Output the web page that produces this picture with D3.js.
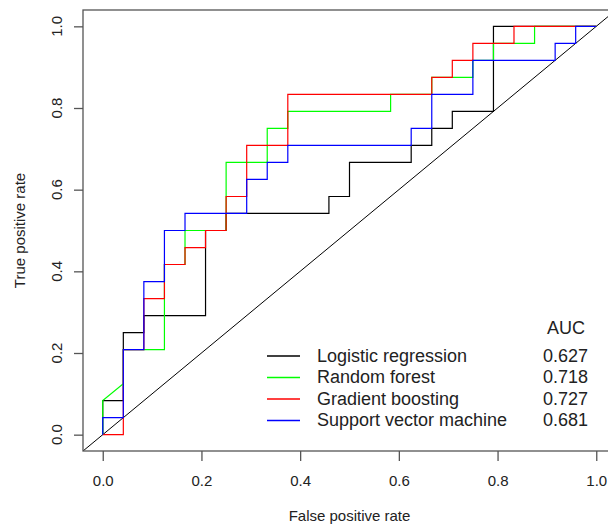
<!DOCTYPE html>
<html>
<head>
<meta charset="utf-8">
<script src="https://cdn.jsdelivr.net/npm/d3@7"></script>
<style>
  body { margin: 0; background: #fff; }
  svg text { font-family: "Liberation Sans", Arial, sans-serif; fill: #222; }
</style>
</head>
<body>
<div id="roc-chart"></div>
<script>
// ROC curves, 24 positives / 24 negatives in the test set
var models = ["Logistic regression", "Random forest", "Gradient boosting", "Support vector machine"];
var aucValues = ["0.627", "0.718", "0.727", "0.681"];
var lineColors = ["#000000", "#00ff00", "#ff0000", "#0000ff"];

var lrFpr = [0, 0, 0.0417, 0.0417, 0.0833, 0.0833, 0.2083, 0.2083, 0.25, 0.25, 0.4583, 0.4583, 0.5, 0.5, 0.625, 0.625, 0.6667, 0.6667, 0.7083, 0.7083, 0.7917, 0.7917, 1];
var lrTpr = [0, 0.0833, 0.0833, 0.25, 0.25, 0.2917, 0.2917, 0.5, 0.5, 0.5417, 0.5417, 0.5833, 0.5833, 0.6667, 0.6667, 0.7083, 0.7083, 0.75, 0.75, 0.7917, 0.7917, 1, 1];

var rfFpr = [0, 0, 0.0417, 0.0417, 0.125, 0.125, 0.1667, 0.1667, 0.25, 0.25, 0.3333, 0.3333, 0.375, 0.375, 0.5833, 0.5833, 0.6667, 0.6667, 0.75, 0.75, 0.7917, 0.7917, 0.875, 0.875, 1];
var rfTpr = [0, 0.0833, 0.125, 0.2083, 0.2083, 0.4167, 0.4167, 0.5, 0.5, 0.6667, 0.6667, 0.75, 0.75, 0.7917, 0.7917, 0.8333, 0.8333, 0.875, 0.875, 0.9167, 0.9167, 0.9583, 0.9583, 1, 1];

var gbFpr = [0, 0.0417, 0.0417, 0.0833, 0.0833, 0.125, 0.125, 0.1667, 0.1667, 0.2083, 0.2083, 0.25, 0.25, 0.2917, 0.2917, 0.375, 0.375, 0.6667, 0.6667, 0.7083, 0.7083, 0.75, 0.75, 0.8333, 0.8333, 1];
var gbTpr = [0, 0, 0.2083, 0.2083, 0.3333, 0.3333, 0.4167, 0.4167, 0.4583, 0.4583, 0.5, 0.5, 0.5833, 0.5833, 0.7083, 0.7083, 0.8333, 0.8333, 0.875, 0.875, 0.9167, 0.9167, 0.9583, 0.9583, 1, 1];

var svmFpr = [0, 0, 0.0417, 0.0417, 0.0833, 0.0833, 0.125, 0.125, 0.1667, 0.1667, 0.2917, 0.2917, 0.3333, 0.3333, 0.375, 0.375, 0.625, 0.625, 0.6667, 0.6667, 0.75, 0.75, 0.9167, 0.9167, 0.9583, 0.9583, 1];
var svmTpr = [0, 0.0417, 0.0417, 0.2083, 0.2083, 0.375, 0.375, 0.5, 0.5, 0.5417, 0.5417, 0.625, 0.625, 0.6667, 0.6667, 0.7083, 0.7083, 0.75, 0.75, 0.8333, 0.8333, 0.9167, 0.9167, 0.9583, 0.9583, 1, 1];

var tickValues = [0, 0.2, 0.4, 0.6, 0.8, 1.0];

function toPoints(fpr, tpr) {
  return fpr.map(function(f, i) { return { x: f, y: tpr[i] }; });
}

var curves = [
  toPoints(lrFpr, lrTpr),
  toPoints(rfFpr, rfTpr),
  toPoints(gbFpr, gbTpr),
  toPoints(svmFpr, svmTpr)
];

var width = 608;
var height = 524;
var plot = { left: 83, right: 616, top: 10, bottom: 451 };

var svg = d3.select("div#roc-chart")
  .append("svg")
    .attr("width", width)
    .attr("height", height);

// R pads the range by 4% on each side
var x = d3.scaleLinear()
  .domain([-0.04, 1.04])
  .range([plot.left, plot.right]);

var y = d3.scaleLinear()
  .domain([-0.04, 1.04])
  .range([plot.bottom, plot.top]);

svg.append("clipPath")
    .attr("id", "plot-clip")
  .append("rect")
    .attr("x", plot.left)
    .attr("y", plot.top)
    .attr("width", plot.right - plot.left)
    .attr("height", plot.bottom - plot.top);

var g = svg.append("g").attr("clip-path", "url(#plot-clip)");

// reference diagonal
g.append("line")
  .attr("x1", x(-0.04))
  .attr("y1", y(-0.04))
  .attr("x2", x(1.04))
  .attr("y2", y(1.04))
  .attr("stroke", "#000")
  .attr("stroke-width", 1);

var line = d3.line()
  .x(function(d) { return x(d.x); })
  .y(function(d) { return y(d.y); });

g.selectAll("path.roc")
  .data(curves)
  .enter()
  .append("path")
  .attr("class", "roc")
  .attr("fill", "none")
  .attr("stroke", function(d, i) { return lineColors[i]; })
  .attr("stroke-width", 1.2)
  .attr("d", line);

// box
svg.append("rect")
  .attr("x", plot.left)
  .attr("y", plot.top)
  .attr("width", plot.right - plot.left)
  .attr("height", plot.bottom - plot.top)
  .attr("fill", "none")
  .attr("stroke", "#555")
  .attr("stroke-width", 1.3);

// x axis
var xAxis = d3.axisBottom(x)
  .tickValues(tickValues)
  .tickSize(10)
  .tickPadding(14)
  .tickFormat(d3.format(".1f"));

var xg = svg.append("g")
  .attr("transform", "translate(0," + plot.bottom + ")")
  .call(xAxis);
xg.select(".domain").remove();
xg.selectAll("line").attr("stroke", "#555").attr("stroke-width", 1.3);
xg.selectAll("text")
  .style("font-size", "15px")
  .style("font-family", "'Liberation Sans', Arial, sans-serif")
  .attr("fill", "#222");

// y axis, labels rotated like R's las = 0
var yAxis = d3.axisLeft(y)
  .tickValues(tickValues)
  .tickSize(9)
  .tickFormat("");

var yg = svg.append("g")
  .attr("transform", "translate(" + plot.left + ",0)")
  .call(yAxis);
yg.select(".domain").remove();
yg.selectAll("line").attr("stroke", "#555").attr("stroke-width", 1.3);

svg.append("g")
  .selectAll("text")
  .data(tickValues)
  .enter()
  .append("text")
  .attr("transform", function(d) { return "translate(62," + y(d) + ") rotate(-90)"; })
  .attr("text-anchor", "middle")
  .style("font-size", "15px")
  .text(d3.format(".1f"));

svg.append("text")
  .attr("x", (plot.left + plot.right) / 2)
  .attr("y", 521)
  .attr("text-anchor", "middle")
  .style("font-size", "15px")
  .text("False positive rate");

svg.append("text")
  .attr("transform", "translate(25," + ((plot.top + plot.bottom) / 2) + ") rotate(-90)")
  .attr("text-anchor", "middle")
  .style("font-size", "15px")
  .text("True positive rate");

// legend
var legendRows = [356, 377.5, 399, 420.5];

svg.append("text")
  .attr("x", 547)
  .attr("y", 334)
  .style("font-size", "18px")
  .text("AUC");

var legend = svg.append("g")
  .selectAll("g")
  .data(models)
  .enter()
  .append("g")
  .attr("transform", function(d, i) { return "translate(0," + legendRows[i] + ")"; });

legend.append("line")
  .attr("x1", 267)
  .attr("x2", 300)
  .attr("stroke", function(d, i) { return lineColors[i]; })
  .attr("stroke-width", 1.6);

legend.append("text")
  .attr("x", 317)
  .attr("y", 5.5)
  .style("font-size", "18px")
  .text(function(d) { return d; });

legend.append("text")
  .attr("x", 543)
  .attr("y", 5.5)
  .style("font-size", "18px")
  .text(function(d, i) { return aucValues[i]; });
</script>
</body>
</html>
